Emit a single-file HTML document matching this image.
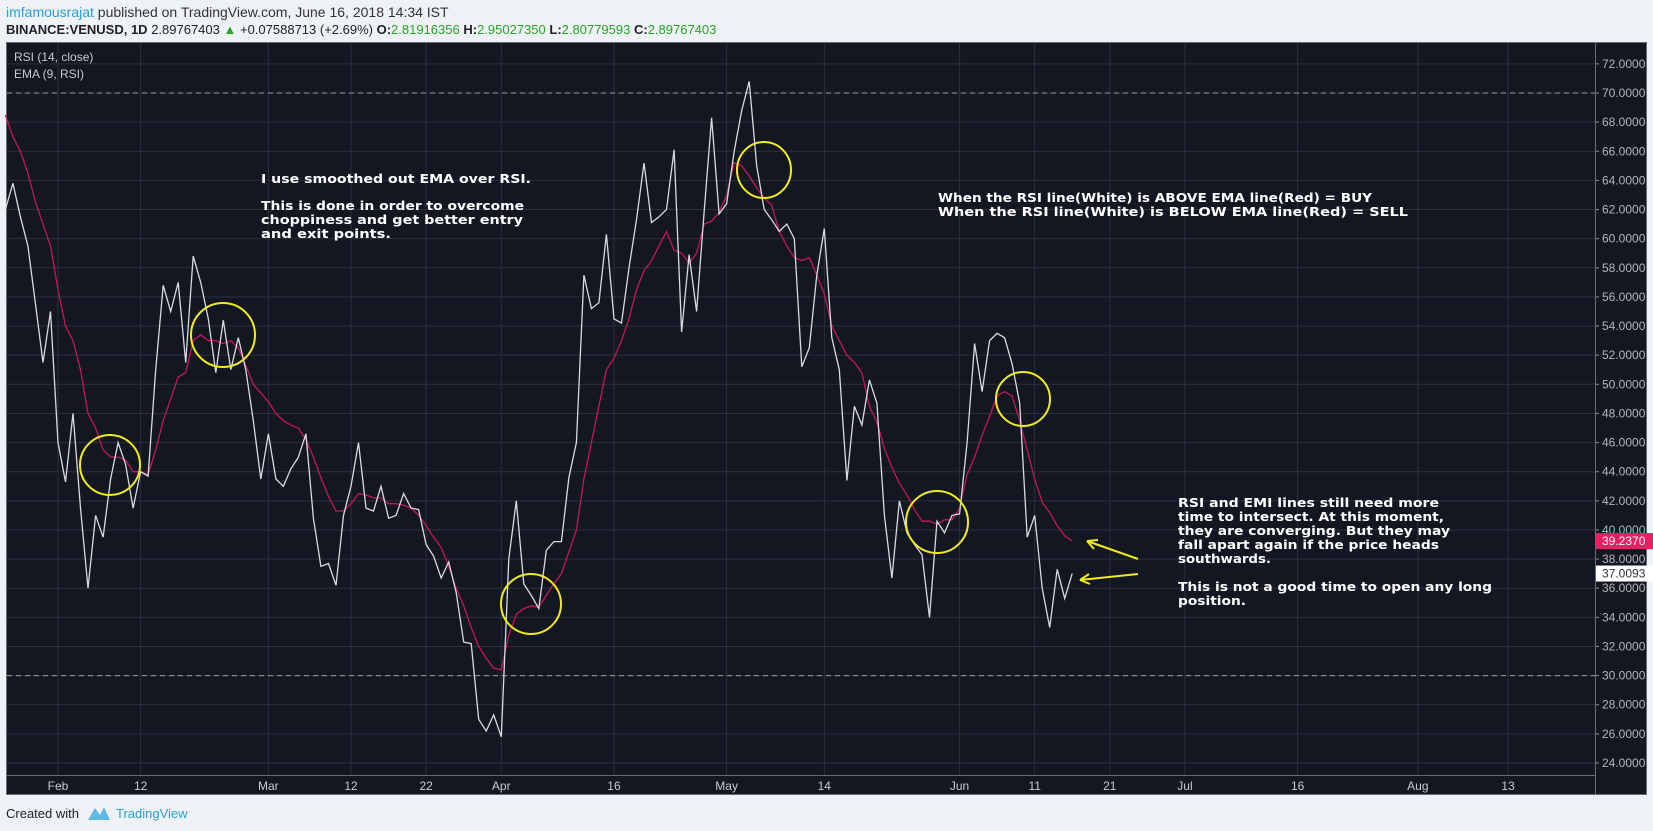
<!DOCTYPE html>
<html><head><meta charset="utf-8"><style>
html,body{margin:0;padding:0;background:#eef1f5;width:1653px;height:831px;overflow:hidden}
svg{display:block}
</style></head><body>
<svg id="chart" width="1653" height="831" viewBox="0 0 1653 831" xmlns="http://www.w3.org/2000/svg" font-family="'Liberation Sans', sans-serif">
<rect x="0" y="0" width="1653" height="831" fill="#eef1f5"/>
<text x="6" y="17" font-size="14" fill="#333"><tspan fill="#2a9fd8">imfamousrajat</tspan> published on TradingView.com, June 16, 2018 14:34 IST</text>
<text x="6" y="34" font-size="13" font-weight="bold" fill="#222">BINANCE:VENUSD, 1D <tspan font-weight="normal">2.89767403</tspan> <tspan fill="#26a626">▲</tspan><tspan font-weight="normal"> +0.07588713 (+2.69%)</tspan> O:<tspan fill="#26a626" font-weight="normal">2.81916356</tspan> H:<tspan fill="#26a626" font-weight="normal">2.95027350</tspan> L:<tspan fill="#26a626" font-weight="normal">2.80779593</tspan> C:<tspan fill="#26a626" font-weight="normal">2.89767403</tspan></text>
<rect x="6.5" y="42.5" width="1640" height="752" fill="#131722" stroke="#6a6d78"/>
<g id="grid"></g>
<g id="axes"></g>
<text x="14" y="61" font-size="12" fill="#c8cad0">RSI (14, close)</text>
<text x="14" y="78" font-size="12" fill="#c8cad0">EMA (9, RSI)</text>
<g id="series"></g>
<g fill="none" stroke="#f2ec1c" stroke-width="2">
<ellipse cx="110" cy="465" rx="30" ry="30"/>
<ellipse cx="223" cy="335" rx="32" ry="32"/>
<ellipse cx="531" cy="604" rx="30" ry="30"/>
<ellipse cx="764" cy="170" rx="27" ry="28"/>
<ellipse cx="937" cy="522" rx="31" ry="31"/>
<ellipse cx="1023" cy="399" rx="27" ry="27"/>
</g>
<g stroke="#f2ec1c" stroke-width="2" fill="none">
<path d="M1138 559 L1087 541 M1087 541 l11 -1 M1087 541 l7 8"/>
<path d="M1138 574 L1080 580 M1080 580 l9 -6 M1080 580 l10 4"/>
</g>
<g font-family="'DejaVu Sans', sans-serif" font-weight="bold" font-size="12" fill="#ffffff">
<text x="261" y="183" textLength="270" lengthAdjust="spacingAndGlyphs">I use smoothed out EMA over RSI.</text>
<text x="261" y="210" textLength="263" lengthAdjust="spacingAndGlyphs">This is done in order to overcome</text>
<text x="261" y="224" textLength="262" lengthAdjust="spacingAndGlyphs">choppiness and get better entry</text>
<text x="261" y="238" textLength="130" lengthAdjust="spacingAndGlyphs">and exit points.</text>
<text x="938" y="202" textLength="434" lengthAdjust="spacingAndGlyphs">When the RSI line(White) is ABOVE EMA line(Red) = BUY</text>
<text x="938" y="216" textLength="470" lengthAdjust="spacingAndGlyphs">When the RSI line(White) is BELOW EMA line(Red) = SELL</text>
<text x="1178" y="507" textLength="261" lengthAdjust="spacingAndGlyphs">RSI and EMI lines still need more</text>
<text x="1178" y="521" textLength="266" lengthAdjust="spacingAndGlyphs">time to intersect. At this moment,</text>
<text x="1178" y="535" textLength="272" lengthAdjust="spacingAndGlyphs">they are converging. But they may</text>
<text x="1178" y="549" textLength="261" lengthAdjust="spacingAndGlyphs">fall apart again if the price heads</text>
<text x="1178" y="563" textLength="93" lengthAdjust="spacingAndGlyphs">southwards.</text>
<text x="1178" y="591" textLength="314" lengthAdjust="spacingAndGlyphs">This is not a good time to open any long</text>
<text x="1178" y="605" textLength="68" lengthAdjust="spacingAndGlyphs">position.</text>
</g>
<text x="6" y="818" font-size="13" fill="#222">Created with</text>
<path d="M88 820 L95 808 L100 815 L104 807 L110 820 Z" fill="#5fb9e6"/>
<text x="116" y="818" font-size="13" fill="#2a9fd8">TradingView</text>
</svg>
<script>
const rsiValues = [62,63.8,61.5,59.5,55.5,51.5,55,
46,43.3,48,41.5,36,41,39.5,43.5,46,44.5,41.5,44,43.7,51,56.8,55,57,51.5,58.8,57,54.5,50.8,54.4,51,53.2,51,47.5,43.5,
46.6,43.5,43,44.2,45,46.6,40.8,37.5,37.7,36.2,41,43,46,41.5,41.3,43,40.8,41,42.5,41.5,41.4,39,38.2,36.7,37.8,35.7,32.3,32.2,27,26.2,27.3,
25.8,38,42,36.3,35.5,34.6,38.6,39.2,39.2,43.6,46,57.5,55.2,55.6,60.3,54.5,54.2,58,61.3,65.2,61.1,61.5,62,66.1,53.6,58.9,55,61.8,68.3,61.7,
62.4,66,68.8,70.8,65,62,61.3,60.5,61,60,51.2,52.5,57.5,60.7,53.2,51,43.4,48.5,47.2,50.3,48.7,41,36.7,42,39.8,39,38.3,34,40.6,39.8,41,
41.1,46,52.8,49.5,53,53.5,53.2,51.4,48.7,39.5,41,36,33.3,37.3,35.3,37.0093];
const emaValues = [68.5,67,66,64.5,62.5,61,59.5,
56.5,54,53,51,48,47,45.5,45,45,44.8,44,44,43.8,45.5,47.5,49,50.5,50.8,53,53.4,53,53,52.8,53,52.5,51.3,50,49.4,
48.8,48,47.5,47.2,47,46.2,45,43.6,42.3,41.3,41.3,41.8,42.5,42.4,42.2,42.2,41.8,41.8,41.7,41.5,41,40.3,39.5,38.8,37.5,36,34.8,33.3,32,31.2,30.5,
30.4,32.8,34.2,34.6,34.8,34.7,35.5,36.3,37,38.5,40,43.5,46,48.5,51,51.8,53,54.5,56.5,57.8,58.5,59.5,60.5,59.2,59,58.3,59,61,61.2,61.8,
63,65.2,65,64.3,63.5,62.8,62.3,60.5,59.5,58.7,58.5,58.7,57.5,56.2,54,53,52,51.5,50.8,48.5,47.4,45.6,44.3,43.2,42.4,41.4,40.6,40.6,40.4,40.7,40.7,
41.5,43.8,45,46.5,47.8,49.2,49.5,49.2,47.5,45.5,43.5,41.9,41.2,40.3,39.6,39.237];
const yTicks = [24,26,28,30,32,34,36,38,40,42,44,46,48,50,52,54,56,58,60,62,64,66,68,70,72];
const xTickLabels = ["Feb","12","Mar","12","22","Apr","16","May","14","Jun","11","21","Jul","16","Aug","13"];
const xTickIndex = [7,18,35,46,56,66,81,96,109,127,137,147,157,172,188,200];
const levelLines = [70,30];

const NS = "http://www.w3.org/2000/svg";
const PLOT_L = 7, PLOT_R = 1595, PLOT_B = 775;
function xScale(i){ return 5.4 + 7.513 * i; }
function yScale(v){ return 763 - (v - 24) * 14.565; }
function mk(tag, attrs, parent){ const e = document.createElementNS(NS, tag); for (const k in attrs) e.setAttribute(k, attrs[k]); parent.appendChild(e); return e; }

const grid = document.getElementById('grid');
const axes = document.getElementById('axes');
yTicks.forEach(v => {
  const y = yScale(v);
  const l = mk('line', {x1: PLOT_L, x2: PLOT_R, y1: y, y2: y, stroke: '#2b303d', 'stroke-width': 1}, grid);
  
  
  const t = mk('line', {x1: PLOT_R, x2: PLOT_R + 4, y1: y, y2: y, stroke: '#8a8d96'}, axes);
  
  
  const lab = mk('text', {x: 1602, y: y + 4, 'font-size': 12, fill: '#b2b5be'}, axes);
  lab.textContent = v.toFixed(4);
  
  
});
xTickIndex.forEach((idx, k) => {
  const x = xScale(idx);
  const l = mk('line', {x1: x, x2: x, y1: 43, y2: PLOT_B, stroke: '#2b303d', 'stroke-width': 1}, grid);
  
  
  const lab = mk('text', {x: x, y: 790, 'font-size': 12, fill: '#c8cad0', 'text-anchor': 'middle'}, axes);
  lab.textContent = xTickLabels[k];
  
  
});
levelLines.forEach(v => {
  const l = mk('line', {x1: PLOT_L, x2: PLOT_R, y1: yScale(v), y2: yScale(v), stroke: '#9a9da6', 'stroke-dasharray': '5,4'}, grid);
  
  
});
const ax1 = mk('line', {x1: PLOT_R + 0.5, x2: PLOT_R + 0.5, y1: 43, y2: 794, stroke: '#6a6d78'}, axes);


const ax2 = mk('line', {x1: PLOT_L, x2: PLOT_R, y1: PLOT_B + 0.5, y2: PLOT_B + 0.5, stroke: '#6a6d78'}, axes);



const series = document.getElementById('series');
function pts(arr){ return arr.map((v, i) => xScale(i).toFixed(1) + ',' + yScale(v).toFixed(1)).join(' '); }
const ema = mk('polyline', {points: pts(emaValues), fill: 'none', stroke: '#c2185b', 'stroke-width': 1.3}, series);


const rsi = mk('polyline', {points: pts(rsiValues), fill: 'none', stroke: '#d9dbe0', 'stroke-width': 1.3}, series);



function lastLabel(v, bg, fg, name){
  const y = yScale(v);
  const r = mk('rect', {x: PLOT_R + 1, y: y - 8, width: 57, height: 16, fill: bg}, axes);
  
  
  const t = mk('text', {x: 1602, y: y + 4, 'font-size': 12, fill: fg}, axes);
  t.textContent = v.toFixed(4);
  
  
}
lastLabel(emaValues[emaValues.length - 1], '#e91e63', '#ffffff', 'ema-last-value');
lastLabel(rsiValues[rsiValues.length - 1], '#ffffff', '#333333', 'rsi-last-value');
</script>
</body></html>
